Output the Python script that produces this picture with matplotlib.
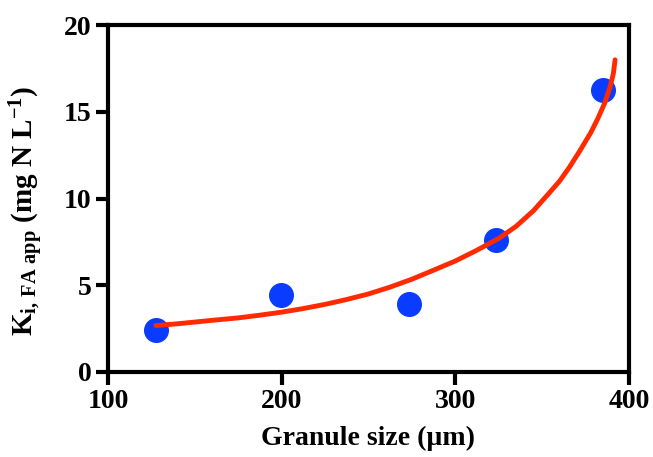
import matplotlib
matplotlib.use('Agg')
import matplotlib.pyplot as plt

# measured points
granule_size = [127.6, 199.6, 273.3, 323.7, 385.2]
ki_fa = [2.45, 4.42, 3.92, 7.62, 16.25]

# fitted curve
fit_x = [127.6, 140, 150, 162, 175, 187, 200, 212, 225, 237, 250, 262, 275, 287,
         300, 312, 325, 335, 345, 353, 360, 366, 372, 378, 382, 386, 389, 391, 392]
fit_y = [2.68, 2.78, 2.88, 3.0, 3.12, 3.27, 3.45, 3.65, 3.9, 4.17, 4.5, 4.88, 5.35, 5.85,
         6.4, 7.0, 7.7, 8.4, 9.3, 10.2, 11.0, 11.85, 12.8, 13.8, 14.6, 15.5, 16.4, 17.2, 18.0]

plt.rcParams['font.family'] = 'Liberation Serif'
plt.rcParams['font.weight'] = 'bold'
plt.rcParams['mathtext.fontset'] = 'custom'
plt.rcParams['mathtext.rm'] = 'Liberation Serif:bold'
plt.rcParams['mathtext.it'] = 'Liberation Serif:bold'
plt.rcParams['mathtext.bf'] = 'Liberation Serif:bold'

fig = plt.figure(figsize=(6.53, 4.57), dpi=100)
ax = fig.add_axes([0.1654, 0.186, 0.7978, 0.759])

ax.plot(fit_x, fit_y, color='#ff2a00', lw=3.5, solid_capstyle='round',
        solid_joinstyle='round', zorder=3)
ax.plot(granule_size, ki_fa, 'o', color='#0a3cff', markersize=17, zorder=2)

ax.set_xlim(100, 400)
ax.set_ylim(0, 20)
ax.set_xticks([100, 200, 300, 400])
ax.set_yticks([0, 5, 10, 15, 20])

for s in ax.spines.values():
    s.set_linewidth(3)
ax.tick_params(direction='out', length=9, width=3, labelsize=20, pad=3)

ax.set_xlabel('Granule size (\u00b5m)', fontsize=20, fontweight='bold', labelpad=9)
ax.set_ylabel(r'$K_{i,\,FA\ app}$ (mg N L$^{-1}$)', fontsize=21, fontweight='bold')
ax.yaxis.set_label_coords(-0.119, 0.464)

fig.savefig('out.png', dpi=100)
